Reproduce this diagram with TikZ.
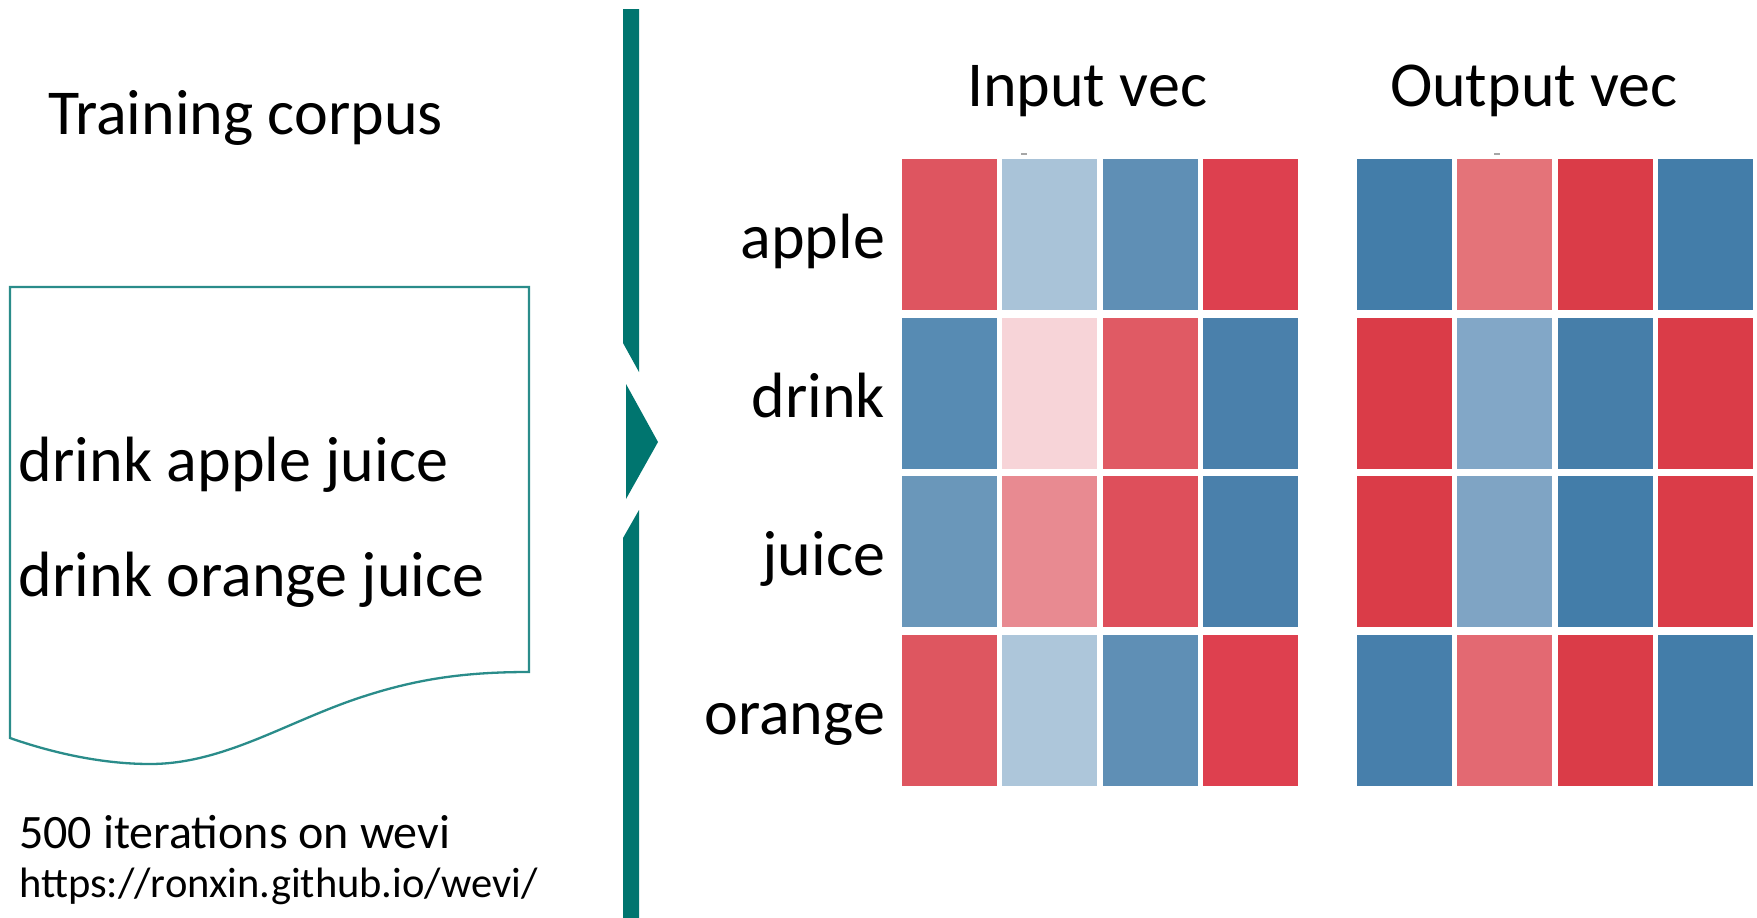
\documentclass[tikz,border=0pt]{standalone}
\usepackage{fontspec}
\setmainfont{Carlito}
\definecolor{barteal}{HTML}{00756F}
\definecolor{boxteal}{HTML}{2A8C8A}
\tikzset{
  txt/.style={inner sep=0pt, outer sep=0pt, font=\fontsize{64}{70}\selectfont},
  cell/.style={draw=none, inner sep=0pt, outer sep=0pt, minimum width=95pt, minimum height=151pt, anchor=north west},
  tick/.style={draw=gray!70, line width=1.5pt}
}
\begin{document}
\begin{tikzpicture}[x=1pt,y=-1pt]
\useasboundingbox[fill=white] (0,0) rectangle (1757,918);
% left side
\node[txt, anchor=base west] (title) at (48,134) {Training corpus};
\draw[boxteal, line width=2.3pt, line join=miter] (10,287) -- (529,287) -- (529,672)
  .. controls (460,672) and (410,680) .. (350,701)
  .. controls (280,726) and (220,764) .. (150,764)
  .. controls (100,764) and (50,752) .. (10,738) -- cycle;
\node[txt, anchor=base west] (s1) at (19,481) {drink apple juice};
\node[txt, anchor=base west] (s2) at (19,596) {drink orange juice};
\node[inner sep=0pt, anchor=base west, font=\fontsize{48}{52}\selectfont] (iter) at (19,848) {500 iterations on wevi};
\node[inner sep=0pt, anchor=base west, font=\fontsize{42.5}{48}\selectfont] (url) at (19,897) {https://ronxin.github.io/wevi/};
% divider bar with arrow
\fill[barteal] (623,9) -- (639,9) -- (639,372) -- (623,343) -- cycle;
\fill[barteal] (626,384) -- (658,442) -- (626,499) -- cycle;
\fill[barteal] (623,538) -- (639,510) -- (639,918) -- (623,918) -- cycle;
% titles
\node[txt, anchor=base west] (intitle) at (967,106) {Input vec};
\node[txt, anchor=base west] (outtitle) at (1390,106) {Output vec};
\draw[tick] (1021,154) -- (1027,154);
\draw[tick] (1494,154) -- (1500,154);
% row labels
\node[txt, anchor=base east] (lapple) at (885,258) {apple};
\node[txt, anchor=base east] (ldrink) at (885,417) {drink};
\node[txt, anchor=base east] (ljuice) at (885,575) {juice};
\node[txt, anchor=base east] (lorange) at (885,734) {orange};
% cell positions
\foreach \r/\y in {1/159,2/317.7,3/476.4,4/635.1}{
  \foreach \c/\x in {1/902,2/1002.3,3/1102.6,4/1203}{
    \coordinate (in-\r-\c) at (\x,\y);
    \coordinate (out-\r-\c) at (\x+455,\y);
  }
}
% input vec cells
\foreach \r/\colA/\colB/\colC/\colD in {
  1/DE5560/A9C3D8/5F8FB5/DD404F,
  2/578BB3/F7D4D8/E05A64/4A80AB,
  3/6A97BA/E88A91/DE4F5B/4A80AB,
  4/DE5660/ADC6DA/5F8FB5/DE404F}{
  \definecolor{cA}{HTML}{\colA}\definecolor{cB}{HTML}{\colB}
  \definecolor{cC}{HTML}{\colC}\definecolor{cD}{HTML}{\colD}
  \node[cell, fill=cA] (inc-\r-1) at (in-\r-1) {};
  \node[cell, fill=cB] (inc-\r-2) at (in-\r-2) {};
  \node[cell, fill=cC] (inc-\r-3) at (in-\r-3) {};
  \node[cell, fill=cD] (inc-\r-4) at (in-\r-4) {};
}
% output vec cells
\foreach \r/\colA/\colB/\colC/\colD in {
  1/437DA9/E47379/DA3C48/437DA9,
  2/DA3C48/82A7C7/467EA9/DA3C48,
  3/DA3C48/7FA4C4/437DA9/DA3C48,
  4/477FAB/E36972/DA3C48/437DA9}{
  \definecolor{cA}{HTML}{\colA}\definecolor{cB}{HTML}{\colB}
  \definecolor{cC}{HTML}{\colC}\definecolor{cD}{HTML}{\colD}
  \node[cell, fill=cA] (outc-\r-1) at (out-\r-1) {};
  \node[cell, fill=cB] (outc-\r-2) at (out-\r-2) {};
  \node[cell, fill=cC] (outc-\r-3) at (out-\r-3) {};
  \node[cell, fill=cD] (outc-\r-4) at (out-\r-4) {};
}
\end{tikzpicture}
\end{document}
